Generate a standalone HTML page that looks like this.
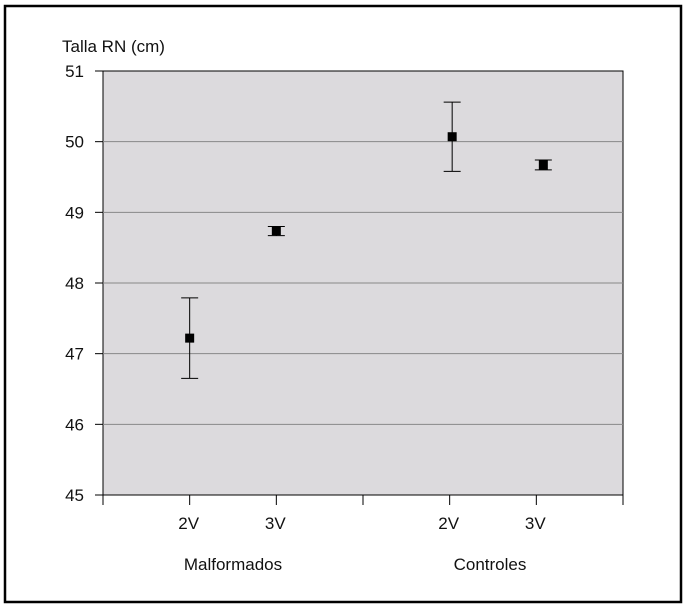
<!DOCTYPE html>
<html><head><meta charset="utf-8"><style>
body{margin:0;background:#fff;font-family:"Liberation Sans",Arial,sans-serif}
svg text{font-family:"Liberation Sans",Arial,sans-serif;fill:#111}
</style></head><body>
<svg id="chart" width="686" height="608" xmlns="http://www.w3.org/2000/svg">
<rect x="5" y="6" width="676" height="596" fill="#fff" stroke="#000" stroke-width="2.5"/>
<rect x="103" y="71" width="520" height="424" fill="#dcdadd" stroke="#000" stroke-width="1"/>
<text x="62" y="52" font-size="17">Talla RN (cm)</text>
<g id="grid"></g><g id="marks"></g>
<text x="233" y="570" font-size="17" text-anchor="middle">Malformados</text>
<text x="490" y="570" font-size="17" text-anchor="middle">Controles</text>
</svg>
<script>
const categories=["2V","3V","2V","3V"];
const means=[47.22,48.74,50.07,49.67];
const upper=[47.79,48.8,50.56,49.74];
const lower=[46.65,48.67,49.58,49.6];
const yTicks=[45,46,47,48,49,50,51];
const NS="http://www.w3.org/2000/svg";
const L=103,R=623,T=71,B=495;
function y(v){return B-(v-45)/(51-45)*(B-T);}
const slots=[1,2,4,5];
const markShift=[0,0,2.5,7];
function x(i){return L+slots[i]*(R-L)/6;}
function mk(tag,attrs,parent){const e=document.createElementNS(NS,tag);for(const k in attrs)e.setAttribute(k,attrs[k]);parent.appendChild(e);return e;}
const g=document.getElementById('grid'),m=document.getElementById('marks');
yTicks.forEach(v=>{
 if(v>45&&v<51){const l=mk('line',{x1:L,x2:R,y1:y(v),y2:y(v),stroke:'#888','stroke-width':1},g);
 
 }
 const t=mk('line',{x1:L-8,x2:L,y1:y(v),y2:y(v),stroke:'#000'},g);
 
 
 const tx=mk('text',{x:L-19,y:y(v)+6,'font-size':17,'text-anchor':'end'},g);tx.textContent=v;
 
 
});
for(let k=0;k<=6;k++){const px=L+k*(R-L)/6;
 const t=mk('line',{x1:px,x2:px,y1:B,y2:B+10,stroke:'#000'},g);
 
 }
categories.forEach((c,i)=>{
 const tx=mk('text',{x:x(i)-1,y:529,'font-size':17,'text-anchor':'middle'},g);tx.textContent=c;
 
 
 const cx=x(i)+markShift[i];
 const eb=mk('path',{d:`M${cx-8.5},${y(upper[i])}H${cx+8.5}M${cx},${y(upper[i])}V${y(lower[i])}M${cx-8.5},${y(lower[i])}H${cx+8.5}`,stroke:'#000','stroke-width':1,fill:'none'},m);
 
 
 const p=mk('rect',{x:cx-4.5,y:y(means[i])-4.5,width:9,height:9,fill:'#000'},m);
 
 
});
</script>
</body></html>
